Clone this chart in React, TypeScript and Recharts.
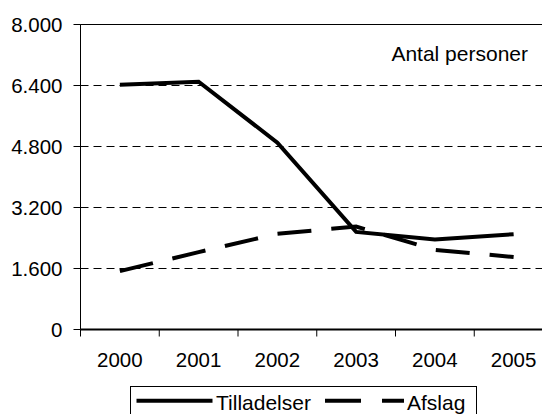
import React from "react";
import {
  LineChart,
  Line,
  XAxis,
  YAxis,
  CartesianGrid,
  ReferenceLine,
  Legend,
} from "recharts";

const years = ["2000", "2001", "2002", "2003", "2004", "2005"];
const tilladelser = [6420, 6500, 4900, 2560, 2360, 2500];
const afslag = [1530, 2030, 2510, 2700, 2090, 1900];
const yTicks = [0, 1600, 3200, 4800, 6400, 8000];
const seriesNames = ["Tilladelser", "Afslag"];

const FONT = '"Liberation Sans", Arial, sans-serif';
const X_TICK_SIZE = 7;
const X_TICK_MARGIN = 16;
const AFSLAG_DASH = "34 20";

const data = years.map((year, i) => ({
  idx: i,
  year,
  tilladelser: tilladelser[i],
  afslag: afslag[i],
}));

// tick marks sit between the categories, labels in the middle
const xTicks = [...years.flatMap((_, i) => [i - 0.5, i]), years.length - 0.5];

const fmtThousands = (v: number) =>
  String(v).replace(/\B(?=(\d{3})+(?!\d))/g, ".");

function XTick(props: any) {
  const { x, y, payload } = props;
  const v = payload.value as number;
  if (!Number.isInteger(v)) {
    return (
      <line
        x1={x}
        x2={x}
        y1={y - X_TICK_MARGIN - X_TICK_SIZE}
        y2={y - X_TICK_MARGIN}
        stroke="#000"
      />
    );
  }
  return (
    <text
      x={x}
      y={y}
      dy="0.71em"
      textAnchor="middle"
      fill="#000"
      fontSize={20.5}
      fontFamily={FONT}
    >
      {years[v]}
    </text>
  );
}

const legendSlots = [
  { lineFrom: 6.5, lineTo: 82.5, textX: 86, dash: undefined },
  { lineFrom: 195, lineTo: 274, textX: 277, dash: "36 21" },
];

function LegendBox({ payload }: any) {
  const entries = [...(payload || [])].sort(
    (a: any, b: any) => seriesNames.indexOf(a.value) - seriesNames.indexOf(b.value)
  );
  return (
    <svg width={347} height={40} style={{ display: "block" }}>
      <rect x={0.5} y={0.5} width={346} height={50} fill="#fff" stroke="#000" />
      {entries.map((entry: any, i: number) => {
        const slot = legendSlots[i];
        if (!slot) return null;
        return (
          <g key={entry.value}>
            <line
              x1={slot.lineFrom}
              x2={slot.lineTo}
              y1={14.7}
              y2={14.7}
              stroke="#000"
              strokeWidth={4}
              strokeDasharray={slot.dash}
            />
            <text x={slot.textX} y={24} fontSize={21} fontFamily={FONT} fill="#000">
              {entry.value}
            </text>
          </g>
        );
      })}
    </svg>
  );
}

export default function App() {
  return (
    <div
      style={{
        position: "absolute",
        left: 0,
        top: 0,
        width: 542,
        height: 414,
        overflow: "hidden",
        background: "#fff",
      }}
    >
      <LineChart
        width={553}
        height={414}
        data={data}
        margin={{ top: 24.5, right: 0, left: 0, bottom: 34.5 }}
      >
        <CartesianGrid
          horizontal
          vertical={false}
          stroke="#000"
          strokeDasharray="8 5"
        />
        <XAxis
          type="number"
          dataKey="idx"
          domain={[-0.5, 5.5]}
          ticks={xTicks}
          interval={0}
          allowDecimals
          height={50}
          tickSize={X_TICK_SIZE}
          tickMargin={X_TICK_MARGIN}
          tickLine={false}
          axisLine={{ stroke: "#000", strokeWidth: 2 }}
          tick={<XTick />}
        />
        <YAxis
          domain={[0, 8000]}
          ticks={yTicks}
          interval={0}
          width={80.5}
          tickSize={7}
          tickMargin={11}
          axisLine={{ stroke: "#000" }}
          tickLine={{ stroke: "#000" }}
          tick={{ fill: "#000", fontSize: 20.5, fontFamily: FONT }}
          tickFormatter={fmtThousands}
        />
        <ReferenceLine
          y={8000}
          stroke="#000"
          strokeWidth={1}
          label={(p: any) => (
            <text
              x={p.viewBox.x + p.viewBox.width - 25}
              y={p.viewBox.y + 36}
              textAnchor="end"
              fontSize={21}
              fontFamily={FONT}
              fill="#000"
            >
              Antal personer
            </text>
          )}
        />
        <Line
          type="linear"
          dataKey="tilladelser"
          name="Tilladelser"
          stroke="#000"
          strokeWidth={4}
          dot={false}
          activeDot={false}
          isAnimationActive={false}
        />
        <Line
          type="linear"
          dataKey="afslag"
          name="Afslag"
          stroke="#000"
          strokeWidth={4}
          strokeDasharray={AFSLAG_DASH}
          dot={false}
          activeDot={false}
          isAnimationActive={false}
        />
        <Legend
          layout="horizontal"
          verticalAlign="middle"
          align="center"
          wrapperStyle={{ top: 386, left: 130, width: 347, height: 40 }}
          content={<LegendBox />}
        />
      </LineChart>
    </div>
  );
}
